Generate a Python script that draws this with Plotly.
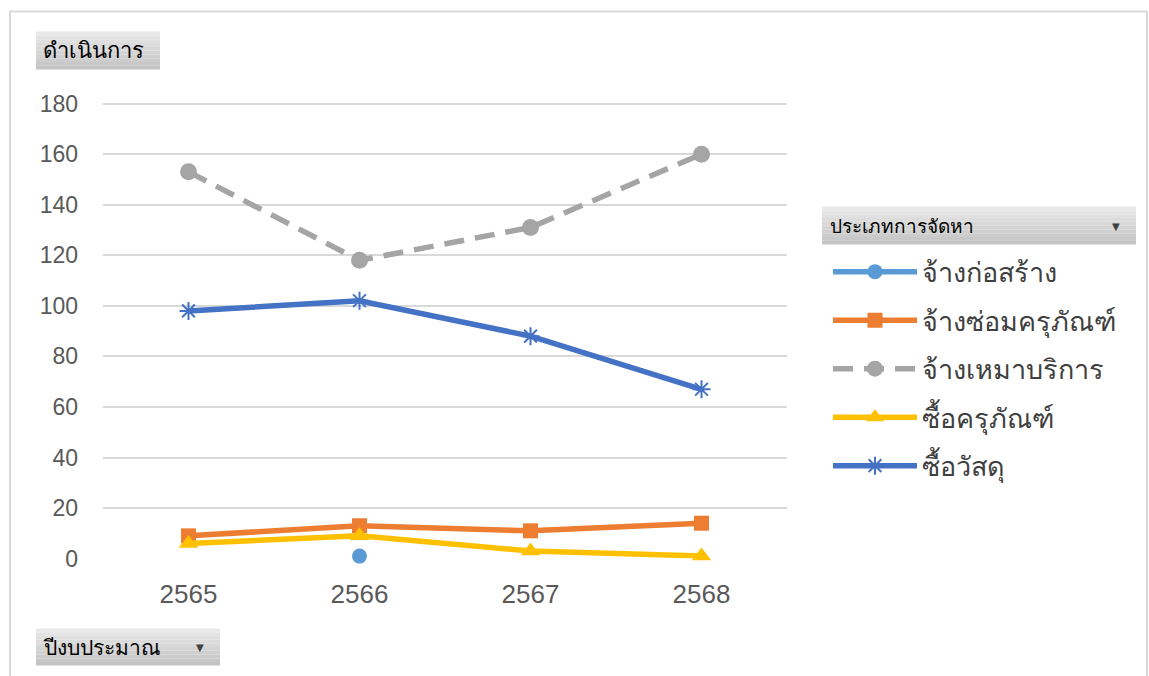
import plotly.graph_objects as go

years = ["2565", "2566", "2567", "2568"]
series_names = ["จ้างก่อสร้าง", "จ้างซ่อมครุภัณฑ์", "จ้างเหมาบริการ", "ซื้อครุภัณฑ์", "ซื้อวัสดุ"]
construct = [None, 1, None, None]
repair = [9, 13, 11, 14]
service = [153, 118, 131, 160]
equipment = [6, 9, 3, 1]
supplies = [98, 102, 88, 67]
y_ticks = [0, 20, 40, 60, 80, 100, 120, 140, 160, 180]

W, H = 1149, 676
FONT = "Liberation Sans, Arial, sans-serif"

def px(x):
    return x / W

def py(y):
    # compensates the vertical mapping observed in the photographed page
    yf = (y - 10.4) / 0.963
    return 1 - yf / H

fig = go.Figure()
styles = [
    (construct, "#5B9BD5", "circle", 15, "solid"),
    (repair, "#ED7D31", "square", 15, "solid"),
    (service, "#A5A5A5", "circle", 17, "20px,11px"),
    (equipment, "#FFC000", "triangle-up", 17, "solid"),
    (supplies, "#4472C4", "asterisk-open", 15, "solid"),
]
for name, (vals, col, sym, sz, dash) in zip(series_names, styles):
    mk = dict(symbol=sym, size=sz, color=col)
    if sym == "asterisk-open":
        mk["line"] = dict(color=col, width=2)
    fig.add_trace(go.Scatter(
        x=years, y=vals, name=name, mode="lines+markers",
        line=dict(color=col, width=5.5, dash=dash),
        marker=mk, legendgroup=name, connectgaps=False, cliponaxis=False,
    ))

fig.update_layout(
    width=W, height=H,
    margin=dict(l=0, r=0, t=0, b=0),
    paper_bgcolor="white", plot_bgcolor="white",
    showlegend=True,
    legend=dict(
        x=px(828), y=py(246), xanchor="left", yanchor="top",
        font=dict(family=FONT, size=27, color="#404040"),
        tracegroupgap=10.4, itemwidth=84, bgcolor="rgba(0,0,0,0)",
    ),
    xaxis=dict(
        domain=[px(103), px(787)], range=[-0.5, 3.5], type="category",
        showgrid=False, zeroline=False, showline=False,
        tickfont=dict(family=FONT, size=26, color="#595959"),
        ticks="", ticklabelstandoff=17,
    ),
    yaxis=dict(
        domain=[py(557), py(101)], range=[0, 180.4], tickvals=y_ticks,
        showgrid=True, gridcolor="#D9D9D9", gridwidth=2, zeroline=False,
        showline=False, ticks="",
        tickfont=dict(family=FONT, size=23, color="#595959"),
        ticklabelstandoff=24,
    ),
)

shapes = []
shapes.append(dict(type="rect", xref="paper", yref="paper", x0=px(10), x1=px(1147), y0=-0.05, y1=py(10),
                   line=dict(color="#D9D9D9", width=2), fillcolor="rgba(0,0,0,0)", layer="below"))

def button(x0, y0, x1, y1):
    n = 10
    for i in range(n):
        t = i / (n - 1)
        g = int(232 - t * (232 - 196))
        c = f"rgb({g},{g},{g})"
        ya = y0 + (y1 - y0) * i / n
        yb = y0 + (y1 - y0) * (i + 1) / n
        shapes.append(dict(type="rect", xref="paper", yref="paper", x0=px(x0), x1=px(x1),
                           y0=py(yb), y1=py(ya), line=dict(width=0), fillcolor=c, layer="below"))

button(36, 30, 160, 68)
button(36, 627, 220, 664)
button(822, 205, 1136, 243)
fig.update_layout(shapes=shapes)

ann = [
    dict(text="ดำเนินการ", x=px(41), y=py(49), xanchor="left", yanchor="middle", size=22),
    dict(text="ปีงบประมาณ", x=px(41), y=py(646), xanchor="left", yanchor="middle", size=21),
    dict(text="ประเภทการจัดหา", x=px(828), y=py(225), xanchor="left", yanchor="middle", size=19),
]
annotations = []
for a in ann:
    s = a.pop("size")
    annotations.append(dict(xref="paper", yref="paper", showarrow=False,
                            font=dict(family=FONT, size=s, color="black"), **a))
for xx, yy in [(200, 646), (1116, 225)]:
    annotations.append(dict(xref="paper", yref="paper", showarrow=False, text="▼",
                            x=px(xx), y=py(yy), xanchor="center", yanchor="middle",
                            font=dict(family="DejaVu Sans", size=10, color="#404040")))
fig.update_layout(annotations=annotations)

fig.write_html("out.html", config={"displayModeBar": False},
               post_script="document.body.style.margin='0';document.body.style.overflow='hidden';")
